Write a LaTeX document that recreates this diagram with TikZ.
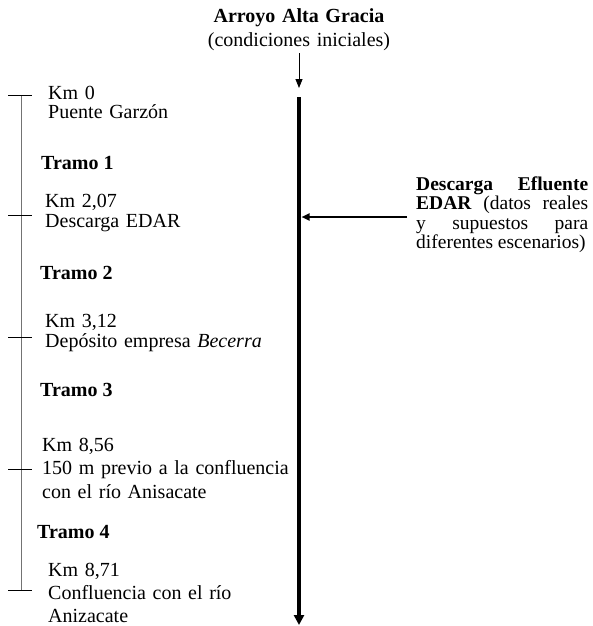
\documentclass[tikz,border=0pt]{standalone}
\usepackage{fontspec}
\setmainfont{Liberation Serif}
\usetikzlibrary{arrows.meta}
\tikzset{
  river/.style    = {line width=3.6pt, -{Triangle[length=10pt,width=10pt]}},
  inflow/.style   = {line width=0.8pt, -{Triangle[length=9pt,width=7pt]}},
  effluent/.style = {line width=2.2pt, -{Triangle[length=8pt,width=7pt]}},
  kmline/.style   = {line width=0.9pt, black!55},
  kmtick/.style   = {line width=0.8pt},
  site/.style     = {anchor=base west, inner sep=0pt, text width=260pt,
                     align=left, font=\fontsize{20}{#1}\selectfont},
  site/.default   = 23.5,
  tramo/.style    = {anchor=base west, inner sep=0pt,
                     font=\fontsize{20}{24}\selectfont\bfseries},
  head/.style     = {anchor=base, inner sep=2pt, text width=220pt,
                     align=center, font=\fontsize{20}{24}\selectfont},
  note/.style     = {anchor=base west, inner sep=0pt, text width=172pt,
                     align=justify, font=\fontsize{19.5}{19.5}\selectfont},
}
\begin{document}
\begin{tikzpicture}[x=1pt, y=-1pt]
  \useasboundingbox (0,0) rectangle (593,626);
  % source and main course
  \node[head] (src) at (299,23) {\textbf{Arroyo Alta Gracia}\\(condiciones iniciales)};
  \coordinate (in) at (299,88);
  \coordinate (rtop) at (299,97);
  \coordinate (rend) at (299,625);
  \draw[inflow] (src.south) -- (in);
  \draw[river] (rtop) -- (rend);
  % effluent discharge
  \node[note] (edar) at (416,190) {\textbf{Descarga Efluente}\linebreak
    \textbf{EDAR} (datos reales\linebreak y supuestos para\linebreak
    \mbox{diferentes escenarios)}};
  \coordinate (eff) at (407,217);
  \coordinate (hit) at (301.5,217);
  \draw[effluent] (eff) -- (hit);
  % km scale
  \coordinate (k0) at (21,95);
  \coordinate (k5) at (21,590);
  \draw[kmline] (k0) -- (k5);
  \foreach \y in {95,215,337,469,590}
    \draw[kmtick] (8,\y) -- (32,\y);
  % sites
  \node[site=20] (s0) at (48,99) {Km 0\\Puente Garzón};
  \node[site=20] (s1) at (45,207) {Km 2,07\\Descarga EDAR};
  \node[site=20] (s2) at (45,327) {Km 3,12\\Depósito empresa \textit{Becerra}};
  \node[site] (s3) at (42,451) {Km 8,56\\150 m previo a la confluencia\\con el río Anisacate};
  \node[site=23] (s4) at (48,576) {Km 8,71\\Confluencia con el río\\Anizacate};
  % reaches
  \node[tramo] (t1) at (41,169) {Tramo 1};
  \node[tramo] (t2) at (40,279) {Tramo 2};
  \node[tramo] (t3) at (40,396) {Tramo 3};
  \node[tramo] (t4) at (37,538) {Tramo 4};
\end{tikzpicture}
\end{document}
